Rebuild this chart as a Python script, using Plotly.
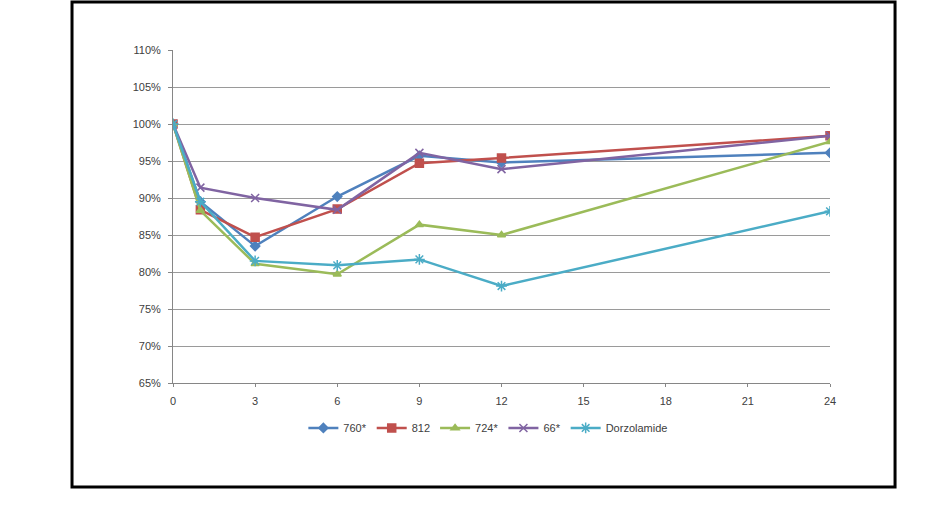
import plotly.graph_objects as go

hours = [0, 1, 3, 6, 9, 12, 24]
s760 = [1.000, 0.895, 0.835, 0.902, 0.957, 0.948, 0.961]
s812 = [1.000, 0.884, 0.847, 0.885, 0.947, 0.954, 0.984]
s724 = [1.000, 0.883, 0.811, 0.797, 0.864, 0.850, 0.976]
s66 = [1.000, 0.914, 0.900, 0.884, 0.961, 0.939, 0.984]
dorz = [1.000, 0.895, 0.815, 0.809, 0.817, 0.781, 0.882]

names = ["760*", "812", "724*", "66*", "Dorzolamide"]
series = [s760, s812, s724, s66, dorz]
colors = ["#4F81BD", "#C0504D", "#9BBB59", "#8064A2", "#4BACC6"]
symbols = ["diamond", "square", "triangle-up", "x-thin-open", "asterisk-open"]
sizes = [7, 8, 7, 8, 9]

fig = go.Figure()
for n, s, c, m, sz in zip(names, series, colors, symbols, sizes):
    fig.add_trace(go.Scatter(
        x=hours, y=s, name=n, mode="lines+markers",
        line=dict(color=c, width=2.5),
        marker=dict(symbol=m, size=sz, color=c, line=dict(color=c, width=1.5)),
    ))

fig.update_layout(
    width=945, height=508,
    margin=dict(l=173, r=115, t=50, b=125),
    paper_bgcolor="white", plot_bgcolor="white",
    font=dict(family="Liberation Sans, Arial, sans-serif", size=11, color="#404040"),
    showlegend=True,
    legend=dict(orientation="h", x=0.48, y=-0.135, xanchor="center", yanchor="middle",
                font=dict(size=11, color="#404040"), itemwidth=30, tracegroupgap=0),
    xaxis=dict(range=[0, 24], dtick=3, tick0=0, showgrid=False, zeroline=False,
               showline=True, linecolor="#868686", linewidth=1,
               ticks="outside", ticklen=3, tickcolor="#868686", ticklabelstandoff=5),
    yaxis=dict(range=[0.65, 1.10], dtick=0.05, tick0=0.65, tickformat=".0%",
               showgrid=True, gridcolor="#9a9a9a", gridwidth=1, zeroline=False,
               showline=True, linecolor="#868686", linewidth=1,
               ticks="outside", ticklen=4, tickcolor="#868686", ticklabelstandoff=5),
    shapes=[dict(type="rect", xref="paper", yref="paper",
                 x0=-0.1537, x1=1.099, y0=-0.312, y1=1.144,
                 line=dict(color="black", width=3), layer="below")],
)

fig.write_html("out.html")
